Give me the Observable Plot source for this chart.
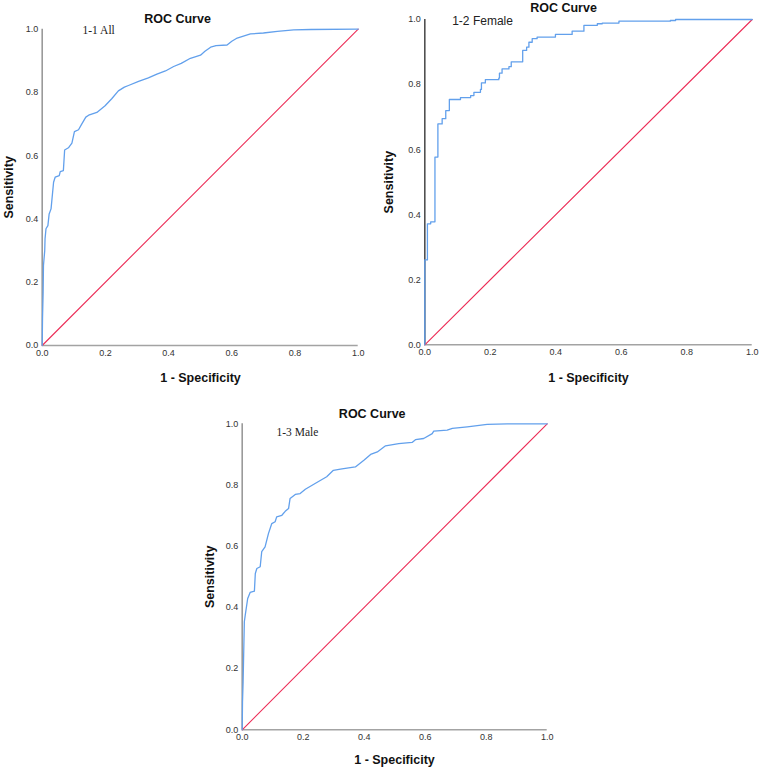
<!DOCTYPE html>
<html>
<head>
<meta charset="utf-8">
<script src="https://cdn.jsdelivr.net/npm/d3@7"></script>
<script src="https://cdn.jsdelivr.net/npm/@observablehq/plot@0.6"></script>
<style>
  html, body { margin: 0; padding: 0; background: #fff; }
  #wrap { position: relative; width: 759px; height: 769px; background: #fff; overflow: hidden; }
  #wrap svg { position: absolute; }
</style>
</head>
<body>
<div id="wrap"></div>
<script>
// ---------- data ----------
const tickValues = [0, 0.2, 0.4, 0.6, 0.8, 1.0];
const chartTitle = "ROC Curve";
const xLabel = "1 - Specificity";
const yLabel = "Sensitivity";
const panelNames = ["1-1 All", "1-2 Female", "1-3 Male"];

const referenceFpr = [0, 1];
const referenceTpr = [0, 1];

const allFpr = [0, 0.001, 0.003, 0.004, 0.008, 0.009, 0.012, 0.018, 0.022, 0.028, 0.036, 0.041, 0.054, 0.057, 0.067, 0.071, 0.083, 0.094, 0.102, 0.115, 0.125, 0.138, 0.147, 0.173, 0.199, 0.22, 0.241, 0.26, 0.273, 0.305, 0.336, 0.363, 0.39, 0.416, 0.44, 0.469, 0.501, 0.515, 0.533, 0.55, 0.585, 0.60, 0.617, 0.659, 0.70, 0.744, 0.796, 0.85, 1];
const allTpr = [0, 0.085, 0.17, 0.253, 0.30, 0.337, 0.369, 0.379, 0.416, 0.432, 0.516, 0.532, 0.537, 0.55, 0.553, 0.618, 0.625, 0.64, 0.676, 0.682, 0.70, 0.722, 0.728, 0.737, 0.758, 0.78, 0.805, 0.817, 0.822, 0.835, 0.846, 0.858, 0.868, 0.882, 0.892, 0.908, 0.918, 0.93, 0.943, 0.948, 0.95, 0.962, 0.972, 0.985, 0.988, 0.993, 0.998, 0.999, 1];

const femaleFpr = [0, 0, 0.008, 0.018, 0.031, 0.04, 0.053, 0.064, 0.075, 0.109, 0.14, 0.15, 0.17, 0.173, 0.185, 0.226, 0.228, 0.236, 0.257, 0.264, 0.299, 0.311, 0.318, 0.328, 0.343, 0.399, 0.45, 0.486, 0.527, 0.542, 0.593, 0.75, 0.766, 1];
const femaleTpr = [0, 0.261, 0.372, 0.378, 0.577, 0.679, 0.695, 0.72, 0.754, 0.76, 0.766, 0.776, 0.785, 0.805, 0.815, 0.82, 0.835, 0.848, 0.855, 0.87, 0.905, 0.915, 0.93, 0.941, 0.946, 0.954, 0.964, 0.982, 0.987, 0.989, 0.995, 0.997, 1.0, 1.0];

const maleFpr = [0, 0.001, 0.003, 0.007, 0.01, 0.018, 0.026, 0.04, 0.043, 0.048, 0.059, 0.064, 0.075, 0.086, 0.097, 0.108, 0.113, 0.13, 0.141, 0.152, 0.157, 0.174, 0.19, 0.207, 0.239, 0.277, 0.299, 0.322, 0.349, 0.371, 0.399, 0.421, 0.443, 0.47, 0.513, 0.557, 0.568, 0.595, 0.623, 0.628, 0.672, 0.689, 0.738, 0.803, 0.869, 1];
const maleTpr = [0, 0.092, 0.157, 0.353, 0.375, 0.429, 0.449, 0.453, 0.511, 0.527, 0.533, 0.582, 0.598, 0.641, 0.674, 0.68, 0.696, 0.701, 0.714, 0.723, 0.756, 0.769, 0.772, 0.786, 0.805, 0.827, 0.848, 0.852, 0.856, 0.859, 0.881, 0.90, 0.908, 0.928, 0.935, 0.939, 0.948, 0.952, 0.968, 0.976, 0.979, 0.985, 0.99, 0.998, 1.0, 1];

// ---------- helpers ----------
const zip = (xs, ys) => xs.map((x, i) => ({fpr: x, tpr: ys[i]}));
const reference = zip(referenceFpr, referenceTpr);
const curveColor = "#62a0ec";
const refColor = "#ec2d57";
const fmt = d => d.toFixed(1);
const serif = "'Liberation Serif', 'Times New Roman', serif";
const sans = "'Liberation Sans', Arial, sans-serif";

function panel(cfg) {
  const mL = cfg.mL, mR = cfg.mR, mT = cfg.mT, mB = cfg.mB;
  const frameCx = mL + (cfg.width - mL - mR) / 2;
  const svg = Plot.plot({
    width: cfg.width,
    height: cfg.height,
    marginLeft: mL, marginRight: mR, marginTop: mT, marginBottom: mB,
    style: {background: "transparent", overflow: "visible", fontFamily: sans},
    x: {domain: [0, 1]},
    y: {domain: [0, 1]},
    marks: [
      Plot.axisX({ticks: tickValues, tickFormat: fmt, tickSize: 0, tickPadding: 4, fontSize: 9, fill: "#333", label: null}),
      Plot.axisY({ticks: tickValues, tickFormat: fmt, tickSize: 0, tickPadding: 4, fontSize: 9, fill: "#333", label: null}),
      Plot.ruleY([0], {stroke: "#a3a3a3", strokeWidth: 1.6}),
      Plot.ruleX([0], {stroke: cfg.yAxisColor, strokeWidth: 1.6}),
      Plot.line(reference, {x: "fpr", y: "tpr", stroke: refColor, strokeWidth: 1.1}),
      Plot.line(cfg.data, {x: "fpr", y: "tpr", stroke: curveColor, strokeWidth: 1.3, curve: cfg.curve}),
      Plot.text([chartTitle], {frameAnchor: "top", textAnchor: "middle", lineAnchor: "middle", dx: cfg.titleX - frameCx, dy: cfg.titleY - mT, fontWeight: "bold", fontSize: 12.5, fill: "#111"}),
      Plot.text([xLabel], {frameAnchor: "bottom", textAnchor: "middle", lineAnchor: "middle", dx: cfg.xLabX - frameCx, dy: cfg.xLabY - (cfg.height - mB), fontWeight: "bold", fontSize: 12.5, fill: "#111"}),
      Plot.text([yLabel], {frameAnchor: "left", textAnchor: "middle", lineAnchor: "middle", rotate: -90, dx: cfg.yLabX - mL, fontWeight: "bold", fontSize: 12.5, fill: "#111"}),
      Plot.text([cfg.name], {frameAnchor: "top-left", textAnchor: "start", lineAnchor: "middle", dx: cfg.nameX - mL, dy: cfg.nameY - mT, fontSize: cfg.nameSize, fill: "#222", fontFamily: cfg.nameFont})
    ]
  });
  svg.style.left = cfg.left + "px";
  svg.style.top = cfg.top + "px";
  document.getElementById("wrap").appendChild(svg);
}

panel({left: 0, top: 0, width: 375, height: 385, mL: 41.7, mR: 17.3, mT: 28.7, mB: 40,
  data: zip(allFpr, allTpr), curve: "linear", yAxisColor: "#9a9a9a",
  titleX: 177, titleY: 18, xLabX: 200, xLabY: 377, yLabX: 8,
  name: panelNames[0], nameX: 82, nameY: 29.5, nameSize: 11.5, nameFont: serif});

panel({left: 375, top: 0, width: 384, height: 385, mL: 49.3, mR: 7.3, mT: 19, mB: 40.7,
  data: zip(femaleFpr, femaleTpr), curve: "step-after", yAxisColor: "#505050",
  titleX: 188, titleY: 7.5, xLabX: 213, xLabY: 377, yLabX: 13,
  name: panelNames[1], nameX: 76.7, nameY: 21, nameSize: 12, nameFont: sans});

panel({left: 190, top: 380, width: 380, height: 389, mL: 51.7, mR: 23.3, mT: 43.3, mB: 39.7,
  data: zip(maleFpr, maleTpr), curve: "linear", yAxisColor: "#9a9a9a",
  titleX: 181.7, titleY: 33.5, xLabX: 204, xLabY: 379, yLabX: 19,
  name: panelNames[2], nameX: 86, nameY: 52, nameSize: 11.5, nameFont: serif});
</script>
</body>
</html>
